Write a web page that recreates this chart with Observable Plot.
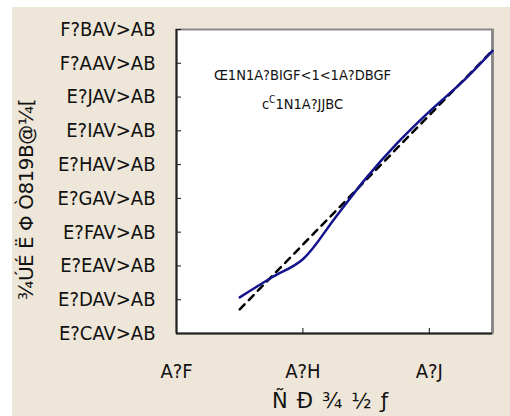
<!DOCTYPE html>
<html>
<head>
<meta charset="utf-8">
<script src="https://cdn.jsdelivr.net/npm/d3@7"></script>
<script src="https://cdn.jsdelivr.net/npm/@observablehq/plot@0.6"></script>
<style>
  html, body { margin: 0; padding: 0; background: #ffffff; width: 510px; height: 416px; overflow: hidden; }
  #chart { position: absolute; left: 12px; top: 7px; }
  #chart svg { background: #EEE6D8; display: block; }
</style>
</head>
<body>
<div id="chart"></div>
<script>
// Measured series
const xValues = [0.6, 0.65, 0.7, 0.75, 0.8, 0.85, 0.9, 0.95, 1.0];
const yValues = [43.07, 43.65, 44.2, 45.4, 46.6, 47.65, 48.57, 49.41, 50.37];

// Axis ticks and their labels
const xTicks = [0.5, 0.7, 0.9];
const xTickLabels = ["A?F", "A?H", "A?J"];
const yTicks = [42, 43, 44, 45, 46, 47, 48, 49, 50, 51];
const yTickLabels = ["E?CAV>AB", "E?DAV>AB", "E?EAV>AB", "E?FAV>AB", "E?GAV>AB",
                     "E?HAV>AB", "E?IAV>AB", "E?JAV>AB", "F?AAV>AB", "F?BAV>AB"];

// Titles and fit annotation
const xTitle = "ÑÐ¾½ƒ";
const yTitle = "¾ÚÉ Ë Φ Ò819B@¼[";
const fitEquation = "Œ1N1A?BIGF<1<1A?DBGF";
const fitR2Base = "c";
const fitR2Sup = "C";
const fitR2Value = "1N1A?JJBC";

const points = xValues.map((x, i) => ({x, y: yValues[i]}));

const W = 498, H = 409;
const mL = 164, mR = 18, mT = 22, mB = 83;
const plotW = W - mL - mR, plotH = H - mT - mB;

const tickFont = "'Liberation Sans Narrow', 'DejaVu Sans Condensed', 'Arial Narrow', sans-serif";
const titleFont = "'DejaVu Sans', sans-serif";

const chart = Plot.plot({
  width: W,
  height: H,
  marginLeft: mL,
  marginRight: mR,
  marginTop: mT,
  marginBottom: mB,
  style: {fontFamily: tickFont, fontSize: "20px", color: "#111", background: "#EEE6D8", overflow: "visible"},
  x: {domain: [0.5, 1.0]},
  y: {domain: [42, 51]},
  marks: [
    Plot.frame({fill: "white", stroke: "#8a8a8a", strokeWidth: 2}),
    Plot.ruleX([1.0], {stroke: "#8a8a8a", strokeWidth: 3}),
    // inward tick marks
    Plot.tickY(yTicks, {y: d => d, stroke: "#111", strokeWidth: 1, insetRight: plotW - 5}),
    Plot.tickX(xTicks, {x: d => d, stroke: "#111", strokeWidth: 1, insetTop: plotH - 5}),
    Plot.ruleX([0.5], {stroke: "#222", strokeWidth: 2}),
    Plot.ruleY([42], {stroke: "#222", strokeWidth: 2}),
    Plot.axisY({ticks: yTicks, tickFormat: (d) => yTickLabels[yTicks.indexOf(d)], tickSize: 0, tickPadding: 21, label: null, fontSize: 20}),
    Plot.axisX({ticks: xTicks, tickFormat: (d) => xTickLabels[xTicks.indexOf(d)], tickSize: 0, tickPadding: 30, label: null, fontSize: 20}),
    Plot.linearRegressionY(points, {x: "x", y: "y", ci: 0, stroke: "#000", strokeWidth: 2.5, strokeDasharray: "7,6"}),
    Plot.line(points, {x: "x", y: "y", curve: "catmull-rom", stroke: "#14148c", strokeWidth: 2.5}),
    Plot.text([fitEquation], {frameAnchor: "top-left", dx: 126, dy: 40, fontSize: 14.5, fill: "#111", textAnchor: "middle"}),
    Plot.text([fitR2Base + fitR2Sup + fitR2Value], {frameAnchor: "top-left", dx: 126, dy: 69, fontSize: 14.5, fill: "#111", textAnchor: "middle"}),
    Plot.text([xTitle], {frameAnchor: "bottom", dx: 0, dy: 74, fontSize: 21, fontFamily: titleFont, fill: "#111", textAnchor: "middle", className: "xtitle"}),
    Plot.text([yTitle], {frameAnchor: "left", dx: -150, dy: 18, rotate: -90, fontSize: 20, fontFamily: titleFont, fill: "#111", textAnchor: "middle", className: "ytitle"})
  ]
});

document.getElementById("chart").appendChild(chart);

// Title spacing
d3.select(chart).selectAll(".xtitle text").style("letter-spacing", "9px");
d3.select(chart).selectAll(".ytitle text").style("letter-spacing", "-0.5px");

// Raise the superscript in the R² line
d3.select(chart).selectAll("text").each(function() {
  const t = d3.select(this);
  if (t.text() === fitR2Base + fitR2Sup + fitR2Value) {
    t.text(null);
    t.append("tspan").text(fitR2Base);
    t.append("tspan").attr("dy", "-6").attr("font-size", "10").text(fitR2Sup);
    t.append("tspan").attr("dy", "6").text(fitR2Value);
  }
});
</script>
</body>
</html>
